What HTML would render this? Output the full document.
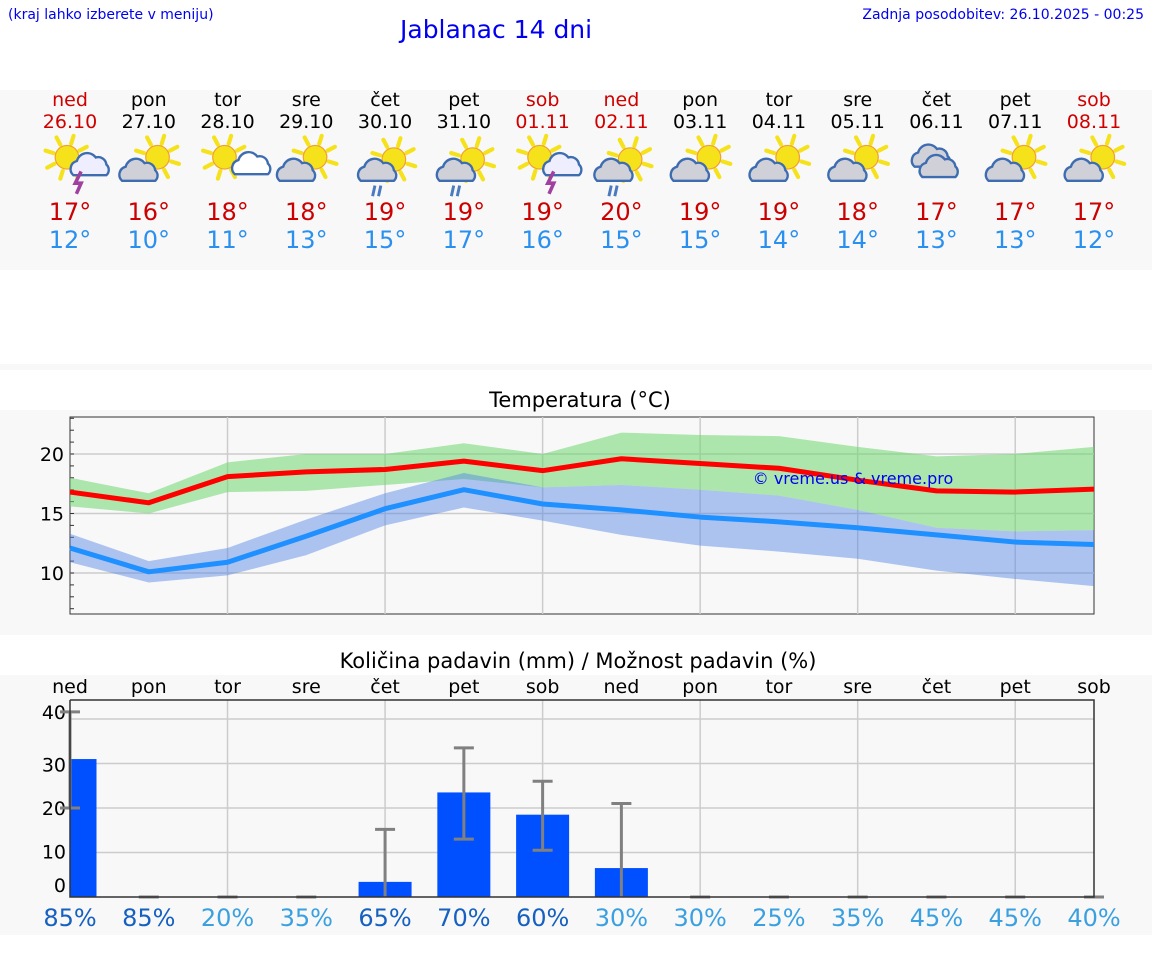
<!DOCTYPE html>
<html><head><meta charset="utf-8">
<style>
body{margin:0;width:1152px;height:975px;background:#fff;font-family:"DejaVu Sans","Liberation Sans",sans-serif;position:relative;overflow:hidden}
.abs{position:absolute}
.c{position:absolute;transform:translateX(-50%);text-align:center;white-space:nowrap}
</style></head><body>
<div class="abs" style="left:8px;top:7px;font-size:14px;color:#0000ee">(kraj lahko izberete v meniju)</div>
<div class="abs" style="left:400px;top:15px;font-size:25px;color:#0000ee">Jablanac 14 dni</div>
<div class="abs" style="right:8px;top:7px;font-size:14px;color:#0000ee">Zadnja posodobitev: 26.10.2025 - 00:25</div>
<div class="abs" style="left:0;top:90px;width:1152px;height:180px;background:#f8f8f8"></div>
<div class="abs" style="left:0;top:364px;width:1152px;height:6px;background:#f8f8f8"></div>
<div class="abs" style="left:0;top:410px;width:1152px;height:225px;background:#f8f8f8"></div>
<div class="c" style="left:580px;top:388px;font-size:21px">Temperatura (°C)</div>
<div class="abs" style="left:0;top:675px;width:1152px;height:260px;background:#f8f8f8"></div>
<div class="c" style="left:578px;top:649px;font-size:21px">Količina padavin (mm) / Možnost padavin (%)</div>
<div id="days"></div>
<svg id="tchart" class="abs" style="left:0;top:0" width="1152" height="975"></svg>
<script>
const dayNames=["ned","pon","tor","sre","čet","pet","sob","ned","pon","tor","sre","čet","pet","sob"];
const dates=["26.10","27.10","28.10","29.10","30.10","31.10","01.11","02.11","03.11","04.11","05.11","06.11","07.11","08.11"];
const iconTypes=["storm","cloudy","light","cloudy","rain","rain","storm","rain","cloudy","cloudy","cloudy","overcast","cloudy","cloudy"];
const maxT=[17,16,18,18,19,19,19,20,19,19,18,17,17,17];
const minT=[12,10,11,13,15,17,16,15,15,14,14,13,13,12];
const maxLine=[16.8,15.9,18.1,18.5,18.7,19.4,18.6,19.6,19.2,18.8,17.8,16.9,16.8,17.05];
const maxHi=[18.0,16.7,19.3,20.0,20.0,20.9,20.0,21.8,21.6,21.5,20.6,19.8,20.0,20.6];
const maxLo=[15.6,15.0,16.8,16.9,17.4,17.9,17.2,17.4,17.0,16.5,15.3,13.8,13.5,13.6];
const minLine=[12.1,10.1,10.9,13.1,15.4,17.0,15.8,15.3,14.7,14.3,13.8,13.2,12.6,12.4];
const minHi=[13.3,11.0,12.1,14.5,16.7,18.4,17.2,17.4,17.0,16.5,15.3,13.8,13.5,13.6];
const minLo=[10.9,9.2,9.8,11.5,14.0,15.5,14.4,13.2,12.3,11.8,11.2,10.2,9.5,8.9];
const tTicks=[10,15,20];
const rain=[31,0,0,0,3.4,23.5,18.5,6.5,0,0,0,0,0,0];
const rainLo=[20,0,0,0,0,13,10.5,0,0,0,0,0,0,0];
const rainHi=[41.6,0,0,0,15.2,33.5,26,21,0,0,0,0,0,0];
const prob=[85,85,20,35,65,70,60,30,30,25,35,45,45,40];
const pTicks=[0,10,20,30,40];

const NS="http://www.w3.org/2000/svg";
const X0=70,X1=1094,step=(X1-X0)/13;
const xd=i=>X0+i*step;
const ty=v=>454-(v-20)*11.9;
const py=v=>897-v*4.45;
const isRed=i=>dayNames[i]==="ned"||dayNames[i]==="sob";
const svg=document.getElementById('tchart');
function el(t,a,p){const e=document.createElementNS(NS,t);for(const k in a)e.setAttribute(k,a[k]);(p||svg).appendChild(e);return e;}

const days=document.getElementById('days');
function div(txt,left,top,size,color,name){const d=document.createElement('div');d.className='c';d.style.left=left+'px';d.style.top=top+'px';d.style.fontSize=size+'px';d.style.color=color;d.textContent=txt;


days.appendChild(d);}
function icon(i){
  const g=el('g',{transform:`translate(${xd(i)-29},136) scale(1.18)`});
  
  
  const t=iconTypes[i];
  const sunx=t==="cloudy"||t==="rain"?32:22, suny=t==="rain"?20:18;
  if(t!=="overcast"){
    for(let k=0;k<8;k++){const a=k*Math.PI/4+0.3;el('line',{x1:sunx+Math.cos(a)*12,y1:suny+Math.sin(a)*12,x2:sunx+Math.cos(a)*19,y2:suny+Math.sin(a)*19,stroke:'#f5e21a','stroke-width':3.5,'stroke-linecap':'round'},g);}
    el('circle',{cx:sunx,cy:suny,r:10,fill:'#f5e21a',stroke:'#f0a030','stroke-width':1},g);
  }
  const cl=(cx,cy,s,fill)=>{el('path',{d:`M${cx-14*s} ${cy+8*s} a7 7 0 0 1 3 -12 a9 9 0 0 1 16 -3 a7 7 0 0 1 9 6 a6 6 0 0 1 0 9 z`,fill:fill,stroke:'#3d6db0','stroke-width':2},g);};
  if(t==="storm"){cl(40,26,0.9,'#eef');el('path',{d:'M34 30 l-5 10 h5 l-4 9',stroke:'#a040a0','stroke-width':3,fill:'none'},g);}
  else if(t==="light"){cl(42,26,0.8,'#fff');}
  else if(t==="cloudy"){cl(16,30,1,'#d0d0d8');}
  else if(t==="rain"){cl(18,30,1,'#d0d0d8');el('path',{d:'M16 42 l-2 9 M21 42 l-2 9',stroke:'#4a7ac0','stroke-width':2.5},g);}
  else {cl(20,18,1,'#d0d0d8');cl(28,26,1.1,'#d0d0d8');}
}
for(let i=0;i<14;i++){
  const x=xd(i),col=isRed(i)?'#d00000':'#000';
  div(dayNames[i],x,89,19,col,'day-name');
  div(dates[i],x,111,19,col,'day-date');
  div(maxT[i]+'°',x,198,24,'#cc0000','max-temp');
  div(minT[i]+'°',x,226,24,'#2a90f0','min-temp');
  div(dayNames[i],x,676,19,'#000','precip-day-name');
  div(prob[i]+'%',x,904,24,prob[i]>=50?'#1560c0':'#3aa0e0','precip-probability');
  icon(i);
}

el('rect',{x:X0,y:417,width:X1-X0,height:197,fill:'#f8f8f8',stroke:'#333','stroke-width':1});
for(let i=2;i<13;i+=2){el('line',{x1:xd(i),x2:xd(i),y1:417,y2:614,stroke:'#ccc','stroke-width':1.5});}
tTicks.forEach(v=>{el('line',{x1:X0,x2:X1,y1:ty(v),y2:ty(v),stroke:'#ccc','stroke-width':1.5});
 const t=el('text',{x:X0-6,y:ty(v)+7,'text-anchor':'end','font-size':19,fill:'#000'});t.textContent=v;
 
 });
for(let v=7;v<=23;v++){el('line',{x1:X0,x2:X0+4,y1:ty(v),y2:ty(v),stroke:'#333'});}
function band(hi,lo,fill,name){let d='';hi.forEach((v,i)=>d+=(i?'L':'M')+xd(i)+' '+ty(v));for(let i=lo.length-1;i>=0;i--)d+='L'+xd(i)+' '+ty(lo[i]);
 const p=el('path',{d:d+'Z',fill:fill});}
function line(arr,col,name){const p=el('polyline',{points:arr.map((v,i)=>xd(i)+','+ty(v)).join(' '),fill:'none',stroke:col,'stroke-width':5,'stroke-linejoin':'round'});}
band(maxHi,maxLo,'rgba(110,215,110,0.55)','max-temp-range');
band(minHi,minLo,'rgba(80,130,230,0.45)','min-temp-range');
line(maxLine,'#ff0000','max-temp-line');
line(minLine,'#1e90ff','min-temp-line');
const wm=el('text',{x:853,y:484,'text-anchor':'middle','font-size':16,fill:'#0000ee'});wm.textContent='© vreme.us & vreme.pro';



el('rect',{x:X0,y:700,width:X1-X0,height:197,fill:'#f8f8f8'});
for(let i=2;i<13;i+=2){el('line',{x1:xd(i),x2:xd(i),y1:700,y2:897,stroke:'#ccc','stroke-width':1.5});}
const pOff={0:-5,10:6,20:7,30:8,40:0};
pTicks.forEach(v=>{if(v>0)el('line',{x1:X0,x2:X1,y1:py(v),y2:py(v),stroke:'#ccc','stroke-width':1.5});
 const t=el('text',{x:X0-4,y:py(v)+pOff[v],'text-anchor':'end','font-size':19,fill:'#000'});t.textContent=v;
 
 });
const bw=53;
rain.forEach((v,i)=>{if(v>0){let x=xd(i)-bw/2,w=bw;if(x<X0){w-=X0-x;x=X0;}
 const r=el('rect',{x:x,y:py(v),width:w,height:py(0)-py(v),fill:'#0050ff'});
 
 }});
rain.forEach((v,i)=>{const x=xd(i);
 if(rainHi[i]>0){el('line',{x1:x,x2:x,y1:py(rainHi[i]),y2:py(rainLo[i]),stroke:'#808080','stroke-width':3});
  el('line',{x1:x-10,x2:x+10,y1:py(rainHi[i]),y2:py(rainHi[i]),stroke:'#808080','stroke-width':3});
  if(rainLo[i]>0)el('line',{x1:x-10,x2:x+10,y1:py(rainLo[i]),y2:py(rainLo[i]),stroke:'#808080','stroke-width':3});}
 else el('line',{x1:x-10,x2:x+10,y1:py(0),y2:py(0),stroke:'#808080','stroke-width':3});});
el('polyline',{points:`${X0},700 ${X1},700 ${X1},897 ${X0},897 ${X0},700`,fill:'none',stroke:'#333','stroke-width':1.5});
</script>
</body></html>
